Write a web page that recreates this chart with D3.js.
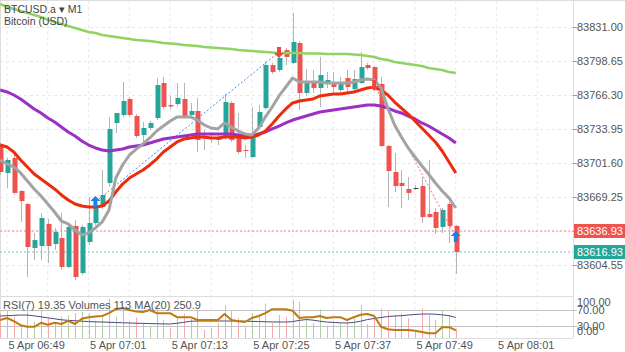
<!DOCTYPE html>
<html>
<head>
<meta charset="utf-8">
<script src="https://cdn.jsdelivr.net/npm/d3@7"></script>
<style>
  body { margin: 0; background: #fff; }
  svg { display: block; font-family: "Liberation Sans", Arial, sans-serif; }
</style>
</head>
<body>
<div class="canvas"></div>
<script>
// ---- data (1 minute bars, 5 Apr) ----
const firstBar = '2025-04-05 06:48';

const opens = [83718.7, 83692.1, 83706.4, 83675.0, 83662.6, 83620.7, 83622.6, 83643.6, 83624.5, 83630.2,
  83602.7, 83641.7, 83596.9, 83626.4, 83644.5, 83659.7, 83682.6, 83739.7, 83747.3, 83762.5,
  83746.3, 83728.2, 83734.9, 83744.4, 83777.7, 83756.8, 83757.7, 83762.5, 83747.3, 83751.1,
  83726.3, 83726.3, 83726.3, 83725.4, 83758.7, 83726.3, 83714.0, 83707.3, 83735.9, 83753.9,
  83794.8, 83790.1, 83809.1, 83796.8, 83815.8, 83768.2, 83777.7, 83773.0, 83777.7, 83777.7,
  83771.1, 83782.5, 83772.0, 83777.7, 83794.8, 83792.9, 83776.8, 83717.8, 83693.0, 83682.6,
  83676.9, 83677.8, 83679.7, 83653.1, 83655.0, 83640.7, 83662.6, 83641.7];
const highs = [83720.6, 83706.4, 83709.2, 83675.9, 83663.5, 83635.0, 83654.0, 83648.3, 83639.8, 83654.0,
  83642.6, 83647.4, 83642.6, 83669.3, 83662.6, 83694.9, 83745.4, 83749.2, 83778.7, 83764.4,
  83748.2, 83740.6, 83741.6, 83782.5, 83783.4, 83765.4, 83777.7, 83777.7, 83758.7, 83763.5,
  83733.0, 83731.1, 83728.2, 83767.3, 83760.6, 83749.2, 83718.7, 83754.9, 83756.8, 83797.7,
  83796.8, 83804.4, 83811.0, 83844.3, 83817.7, 83791.0, 83790.1, 83802.5, 83788.2, 83788.2,
  83783.4, 83790.1, 83790.1, 83807.2, 83796.8, 83793.9, 83783.4, 83718.7, 83711.1, 83694.9,
  83688.3, 83680.7, 83688.3, 83704.5, 83658.8, 83658.8, 83664.5, 83642.6];
const lows = [83690.2, 83677.8, 83671.2, 83645.5, 83593.1, 83609.3, 83609.3, 83606.5, 83618.8, 83599.8,
  83601.7, 83590.3, 83595.0, 83623.6, 83642.6, 83657.8, 83678.8, 83730.1, 83745.4, 83745.4,
  83725.4, 83720.6, 83733.0, 83742.5, 83753.0, 83753.0, 83755.8, 83744.4, 83744.4, 83712.1,
  83714.0, 83720.6, 83718.7, 83723.5, 83721.6, 83710.2, 83706.4, 83706.4, 83734.0, 83752.0,
  83786.3, 83788.2, 83794.8, 83795.8, 83752.0, 83765.4, 83768.2, 83754.9, 83773.0, 83769.2,
  83769.2, 83769.2, 83770.1, 83776.8, 83790.1, 83775.8, 83716.8, 83659.7, 83674.0, 83658.8,
  83666.4, 83675.9, 83644.5, 83649.3, 83634.1, 83635.0, 83625.5, 83596.0];
const closes = [83693.0, 83704.5, 83673.1, 83665.4, 83621.7, 83628.3, 83649.3, 83622.6, 83636.0, 83602.7,
  83640.7, 83593.1, 83640.7, 83644.5, 83659.7, 83671.2, 83734.0, 83749.2, 83760.6, 83747.3,
  83727.3, 83734.9, 83739.7, 83775.8, 83754.9, 83755.4, 83763.5, 83746.3, 83751.1, 83723.5,
  83724.9, 83725.4, 83723.5, 83759.6, 83723.5, 83712.1, 83713.0, 83726.3, 83750.1, 83794.8,
  83788.2, 83801.5, 83802.5, 83816.7, 83768.2, 83777.7, 83773.0, 83785.3, 83780.6, 83773.9,
  83778.7, 83773.9, 83781.5, 83792.9, 83792.0, 83777.7, 83717.8, 83694.0, 83679.7, 83679.7,
  83673.1, 83677.8, 83650.2, 83650.2, 83639.8, 83656.9, 83641.7, 83616.93];

// moving averages drawn over the candles
const maGray = [83704.5, 83700.7, 83697.8, 83692.1, 83684.5, 83676.9, 83670.2, 83662.6, 83655.0, 83646.4,
  83643.6, 83637.9, 83633.1, 83635.0, 83639.8, 83645.5, 83656.9, 83687.3, 83699.7, 83709.2,
  83714.9, 83719.7, 83725.4, 83732.0, 83736.8, 83741.6, 83745.4, 83745.4, 83745.4, 83742.5,
  83737.8, 83734.9, 83734.0, 83739.7, 83735.9, 83732.0, 83729.2, 83728.2, 83734.9, 83745.4,
  83754.9, 83765.4, 83773.9, 83782.5, 83778.7, 83778.7, 83778.7, 83778.7, 83777.7, 83777.7,
  83777.7, 83777.7, 83778.7, 83780.6, 83781.5, 83780.6, 83773.0, 83753.9, 83737.8, 83726.3,
  83715.9, 83707.3, 83699.0, 83691.1, 83682.6, 83675.0, 83668.3, 83658.8];
const maRed = [83718.7, 83716.8, 83712.1, 83704.5, 83697.8, 83691.1, 83686.4, 83681.6, 83676.9, 83671.2,
  83666.4, 83662.6, 83660.7, 83659.7, 83659.7, 83660.7, 83665.4, 83674.0, 83681.6, 83687.3,
  83691.1, 83694.9, 83699.7, 83705.4, 83712.1, 83716.8, 83721.6, 83724.4, 83725.4, 83726.3,
  83726.3, 83725.4, 83725.4, 83726.3, 83726.3, 83726.3, 83725.4, 83726.3, 83728.2, 83732.0,
  83738.7, 83746.3, 83753.0, 83758.7, 83760.6, 83761.6, 83762.5, 83765.4, 83766.3, 83767.3,
  83767.3, 83768.2, 83769.2, 83771.1, 83773.0, 83773.9, 83771.1, 83766.3, 83759.6, 83753.9,
  83748.2, 83741.6, 83734.9, 83728.2, 83721.6, 83713.0, 83702.6, 83692.1];
const maPurple = [83771.1, 83769.2, 83766.3, 83762.5, 83757.7, 83753.0, 83749.2, 83744.4, 83740.6, 83735.9,
  83731.1, 83727.3, 83722.5, 83718.7, 83715.9, 83714.0, 83713.0, 83714.0, 83714.9, 83716.8,
  83717.8, 83718.7, 83720.6, 83722.5, 83724.4, 83725.4, 83726.3, 83727.3, 83728.2, 83729.2,
  83729.2, 83729.2, 83729.2, 83729.2, 83729.2, 83728.2, 83727.3, 83727.3, 83729.2, 83731.1,
  83734.0, 83736.8, 83739.7, 83742.5, 83744.4, 83746.3, 83748.2, 83750.1, 83751.1, 83752.0,
  83753.0, 83753.9, 83754.9, 83755.8, 83756.8, 83756.8, 83755.8, 83753.9, 83751.1, 83749.2,
  83746.3, 83743.5, 83739.7, 83736.8, 83733.0, 83729.2, 83725.4, 83720.6];
const maGreen = [83852.9, 83850.0, 83848.1, 83846.2, 83844.3, 83842.4, 83840.5, 83837.7, 83835.8, 83833.9,
  83832.0, 83830.1, 83828.2, 83826.3, 83825.3, 83823.4, 83822.4, 83821.5, 83820.5, 83819.6,
  83818.6, 83818.2, 83817.7, 83816.7, 83815.8, 83815.3, 83814.8, 83813.9, 83813.4, 83812.9,
  83812.0, 83811.5, 83811.0, 83810.6, 83810.1, 83809.1, 83808.7, 83808.2, 83807.7, 83807.2,
  83806.7, 83806.3, 83806.3, 83806.3, 83806.3, 83805.8, 83805.8, 83805.8, 83805.3, 83805.3,
  83805.3, 83805.3, 83804.8, 83804.4, 83803.4, 83802.5, 83800.6, 83799.6, 83797.7, 83796.8,
  83795.8, 83794.9, 83793.9, 83792.0, 83791.0, 83790.1, 83788.2, 83787.2];

// lower panel
const volumes = [300, 330, 260, 150, 400, 200, 330, 240, 170, 260,
  280, 300, 320, 300, 210, 250, 480, 260, 370, 200,
  250, 180, 150, 400, 220, 120, 260, 300, 230, 350,
  100, 120, 180, 400, 330, 240, 130, 300, 260, 420,
  180, 280, 260, 470, 440, 240, 180, 350, 150, 200,
  180, 200, 240, 400, 170, 240, 360, 340, 280, 300,
  240, 100, 360, 280, 220, 330, 280, 113];
const volumeMA = [268, 272, 276, 280, 279, 270, 258, 246, 234, 222,
  215, 210, 205, 200, 197, 195, 192, 189, 186, 183,
  180, 178, 176, 174, 172, 171, 180, 192, 204, 207,
  207, 207, 207, 207, 207, 207, 205, 203, 200, 198,
  196, 195, 195, 200, 215, 225, 218, 205, 195, 190,
  185, 183, 190, 205, 225, 238, 250, 262, 268, 272,
  280, 287, 292, 293, 290, 282, 272, 262].slice(0, 67).concat([250.9]);
const rsi = [45, 50, 42, 32, 28, 28, 38, 33, 38, 35,
  43, 35, 48, 52, 54, 55, 62, 72, 75, 70,
  66, 65, 70, 62, 62, 62, 52, 52, 52, 45,
  45, 45, 45, 60, 45, 42, 40, 50, 55, 62,
  72, 72, 72, 68, 50, 52, 52, 55, 50, 52,
  52, 45, 52, 58, 60, 55, 28, 22, 20, 20,
  20, 18, 15, 12, 12, 27, 27, 19.35];

// axes
const priceTicks = [83604.55, 83636.90, 83669.25, 83701.60, 83733.95, 83766.30, 83798.65, 83831.00];
const timeTicks = ['06:49', '07:01', '07:13', '07:25', '07:37', '07:49', '08:01'];
const rsiTicks = [100, 70, 30, 0];
const rsiLevels = [70, 30];
const askPrice = 83636.93;
const bidPrice = 83616.93;

// trades: open bar, open price, close bar, close price, direction
const tradeOpenBar = [14, 55];
const tradeOpenPrice = [83664.5, 83775.8];
const tradeCloseBar = [41, 67];
const tradeClosePrice = [83807.2, 83631.2];
const tradeSide = ['buy', 'sell'];

// ---- chart ----
const width = 625, height = 352;
const plotRight = 573;

const svg = d3.select('.canvas')
  .append('svg')
  .attr('width', width)
  .attr('height', height);

const parse = d3.timeParse('%Y-%m-%d %H:%M');
const t0 = parse(firstBar);
const bars = opens.map((o, i) => ({
  t: d3.timeMinute.offset(t0, i),
  o, h: highs[i], l: lows[i], c: closes[i],
  v: volumes[i], vma: volumeMA[i], rsi: rsi[i]
}));

const x = d3.scaleTime()
  .domain([t0, d3.timeMinute.offset(t0, 84)])
  .range([0.2, 0.2 + 84 * 6.8]);
const y = d3.scaleLinear().domain([83604.55, 83831.00]).range([265, 27]);
const rsiY = d3.scaleLinear().domain([0, 100]).range([338, 298]);
const volY = d3.scaleLinear().domain([0, 500]).range([338, 297]);

const up = '#26a69a', down = '#ef5350';

// clip for main panel
svg.append('clipPath').attr('id', 'main')
  .append('rect').attr('x', 0).attr('y', 1).attr('width', plotRight).attr('height', 294);

// grid
const gridTimes = d3.range(0, 14).map(i => d3.timeMinute.offset(parse('2025-04-05 06:49'), i * 6));
svg.append('g').selectAll('line')
  .data(gridTimes)
  .enter().append('line')
  .attr('x1', d => x(d)).attr('x2', d => x(d))
  .attr('y1', 1).attr('y2', 338)
  .attr('stroke', '#e6eaee').attr('stroke-dasharray', '3,3');
svg.append('g').selectAll('line')
  .data(priceTicks)
  .enter().append('line')
  .attr('x1', 0).attr('x2', plotRight)
  .attr('y1', d => Math.round(y(d)) + 0.5).attr('y2', d => Math.round(y(d)) + 0.5)
  .attr('stroke', '#e6eaee').attr('stroke-dasharray', '3,3');

// frame
svg.append('line').attr('x1', 0).attr('x2', width).attr('y1', 0.5).attr('y2', 0.5).attr('stroke', '#ddd');
svg.append('line').attr('x1', 0.5).attr('x2', 0.5).attr('y1', 0).attr('y2', 338).attr('stroke', '#ddd');
svg.append('line').attr('x1', plotRight + 0.5).attr('x2', plotRight + 0.5).attr('y1', 0).attr('y2', 338).attr('stroke', '#ddd');
svg.append('line').attr('x1', 0).attr('x2', plotRight).attr('y1', 296.5).attr('y2', 296.5).attr('stroke', '#ddd');
svg.append('line').attr('x1', 0).attr('x2', plotRight).attr('y1', 338.5).attr('y2', 338.5).attr('stroke', '#ddd');

const main = svg.append('g').attr('clip-path', 'url(#main)');

// bid / ask lines
main.append('line')
  .attr('x1', 0).attr('x2', plotRight)
  .attr('y1', y(askPrice)).attr('y2', y(askPrice))
  .attr('stroke', '#f08a8a').attr('stroke-dasharray', '2,2');
main.append('line')
  .attr('x1', 0).attr('x2', plotRight)
  .attr('y1', y(bidPrice)).attr('y2', y(bidPrice))
  .attr('stroke', '#7cc4bd').attr('stroke-dasharray', '2,2');

// candles
const colour = d => d.c > d.o ? up : d.c < d.o ? down : '#444';
main.append('g').selectAll('line')
  .data(bars)
  .enter().append('line')
  .attr('x1', d => Math.round(x(d.t)) + 0.5).attr('x2', d => Math.round(x(d.t)) + 0.5)
  .attr('y1', d => y(d.h)).attr('y2', d => y(d.l))
  .attr('stroke', '#b4b4b4');
main.append('g').selectAll('rect')
  .data(bars)
  .enter().append('rect')
  .attr('x', d => Math.round(x(d.t)) - 1.5)
  .attr('width', 5)
  .attr('y', d => y(Math.max(d.o, d.c)))
  .attr('height', d => Math.max(1, y(Math.min(d.o, d.c)) - y(Math.max(d.o, d.c))))
  .attr('fill', colour);

// trade lines
const tradeColour = s => s === 'buy' ? '#3b8fe8' : '#f0736b';
main.append('g').selectAll('line')
  .data(tradeSide)
  .enter().append('line')
  .attr('x1', (d, i) => x(bars[tradeOpenBar[i]].t))
  .attr('y1', (d, i) => y(tradeOpenPrice[i]))
  .attr('x2', (d, i) => x(bars[tradeCloseBar[i]].t))
  .attr('y2', (d, i) => y(tradeClosePrice[i]))
  .attr('stroke', tradeColour)
  .attr('stroke-dasharray', '2,2');

// moving averages
const maLine = data => d3.line()
  .x((d, i) => x(bars[i].t))
  .y(d => y(d))(data);
[[maGreen, '#8fd460', 2.5], [maPurple, '#9c2fc4', 3], [maRed, '#ec2c0c', 3], [maGray, '#a3a3a3', 3]]
  .forEach(([data, col, w]) => {
    main.append('path')
      .attr('d', maLine(data))
      .attr('fill', 'none')
      .attr('stroke', col)
      .attr('stroke-width', w)
      .attr('stroke-linejoin', 'round');
  });

// trade arrows
const arrowUp = 'M0,-6 L5,-1 L2,-1 L2,5 L-2,5 L-2,-1 L-5,-1 Z';
const arrowDown = 'M0,6 L5,1 L2,1 L2,-5 L-2,-5 L-2,1 L-5,1 Z';
const marks = [];
tradeSide.forEach((s, i) => {
  marks.push({ bar: tradeOpenBar[i], p: tradeOpenPrice[i], up: s === 'buy' });
  marks.push({ bar: tradeCloseBar[i], p: tradeClosePrice[i], up: s !== 'buy' });
});
main.append('g').selectAll('path')
  .data(marks)
  .enter().append('path')
  .attr('d', d => d.up ? arrowUp : arrowDown)
  .attr('transform', d => `translate(${x(bars[d.bar].t)},${y(d.p)})`)
  .attr('fill', d => d.up ? '#1e7fe6' : '#f2453d');

// price axis
const yAxis = d3.axisRight(y)
  .tickValues(priceTicks)
  .tickSize(4)
  .tickPadding(0)
  .tickFormat(d3.format('.2f'));
const yAxisGroup = svg.append('g')
  .attr('transform', `translate(${plotRight},0)`)
  .call(yAxis);
yAxisGroup.select('.domain').remove();
yAxisGroup.selectAll('line').attr('stroke', '#999');
yAxisGroup.selectAll('text')
  .attr('font-size', 11)
  .attr('font-family', '"Liberation Sans", Arial, sans-serif')
  .attr('fill', '#555');

// bid / ask labels
[[askPrice, down], [bidPrice, up]].forEach(([p, col]) => {
  svg.append('rect')
    .attr('x', plotRight + 1).attr('y', y(p) - 7)
    .attr('width', width - plotRight - 1).attr('height', 14)
    .attr('fill', col);
  svg.append('text')
    .attr('x', plotRight + 4).attr('y', y(p) + 4)
    .attr('font-size', 11).attr('fill', '#fff')
    .text(d3.format('.2f')(p));
});

// title
svg.append('text').attr('x', 4).attr('y', 13)
  .attr('font-size', 10.5).attr('fill', '#444')
  .text('BTCUSD.a \u25BE M1');
svg.append('text').attr('x', 4).attr('y', 25)
  .attr('font-size', 10.5).attr('fill', '#444')
  .text('Bitcoin (USD)');

// lower panel: volumes, volume MA, RSI
const lower = svg.append('g');
lower.selectAll('line.lvl')
  .data(rsiLevels)
  .enter().append('line')
  .attr('x1', 0).attr('x2', plotRight + 4)
  .attr('y1', d => Math.round(rsiY(d)) + 0.5).attr('y2', d => Math.round(rsiY(d)) + 0.5)
  .attr('stroke', '#c4c4c4');
lower.append('g').selectAll('line')
  .data(bars)
  .enter().append('line')
  .attr('x1', d => Math.round(x(d.t)) + 0.5).attr('x2', d => Math.round(x(d.t)) + 0.5)
  .attr('y1', d => volY(d.v)).attr('y2', 338)
  .attr('stroke', d => d.c >= d.o ? '#b1cfa6' : '#f7aaaa');
lower.append('path')
  .attr('d', d3.line().x(d => x(d.t)).y(d => volY(d.vma))(bars))
  .attr('fill', 'none').attr('stroke', '#4a4a80').attr('stroke-width', 1);
lower.append('path')
  .attr('d', d3.line().x(d => x(d.t)).y(d => rsiY(d.rsi))(bars))
  .attr('fill', 'none').attr('stroke', '#c07a12').attr('stroke-width', 2)
  .attr('stroke-linejoin', 'round');

lower.append('text').attr('x', 3).attr('y', 309)
  .attr('font-size', 11).attr('fill', '#555')
  .text(`RSI(7) ${rsi[rsi.length - 1].toFixed(2)} Volumes ${volumes[volumes.length - 1]} MA(20) ${volumeMA[volumeMA.length - 1]}`);

lower.selectAll('text.rsi')
  .data(rsiTicks)
  .enter().append('text')
  .attr('x', plotRight + 4)
  .attr('y', d => rsiY(d) + (d === 100 ? 8 : d === 0 ? -3 : 4))
  .attr('font-size', 11).attr('fill', '#555')
  .text(d => d3.format('.2f')(d));

// time axis
const xAxis = d3.axisBottom(x)
  .tickValues(timeTicks.map(t => parse('2025-04-05 ' + t)))
  .tickSize(0)
  .tickFormat(d3.timeFormat('%-d %b %H:%M'));
const xAxisGroup = svg.append('g')
  .attr('transform', 'translate(0,338)')
  .call(xAxis);
xAxisGroup.select('.domain').remove();
xAxisGroup.selectAll('text')
  .attr('text-anchor', 'start')
  .attr('dx', 1)
  .attr('y', 3)
  .attr('font-size', 11)
  .attr('font-family', '"Liberation Sans", Arial, sans-serif')
  .attr('fill', '#555');
</script>
</body>
</html>
